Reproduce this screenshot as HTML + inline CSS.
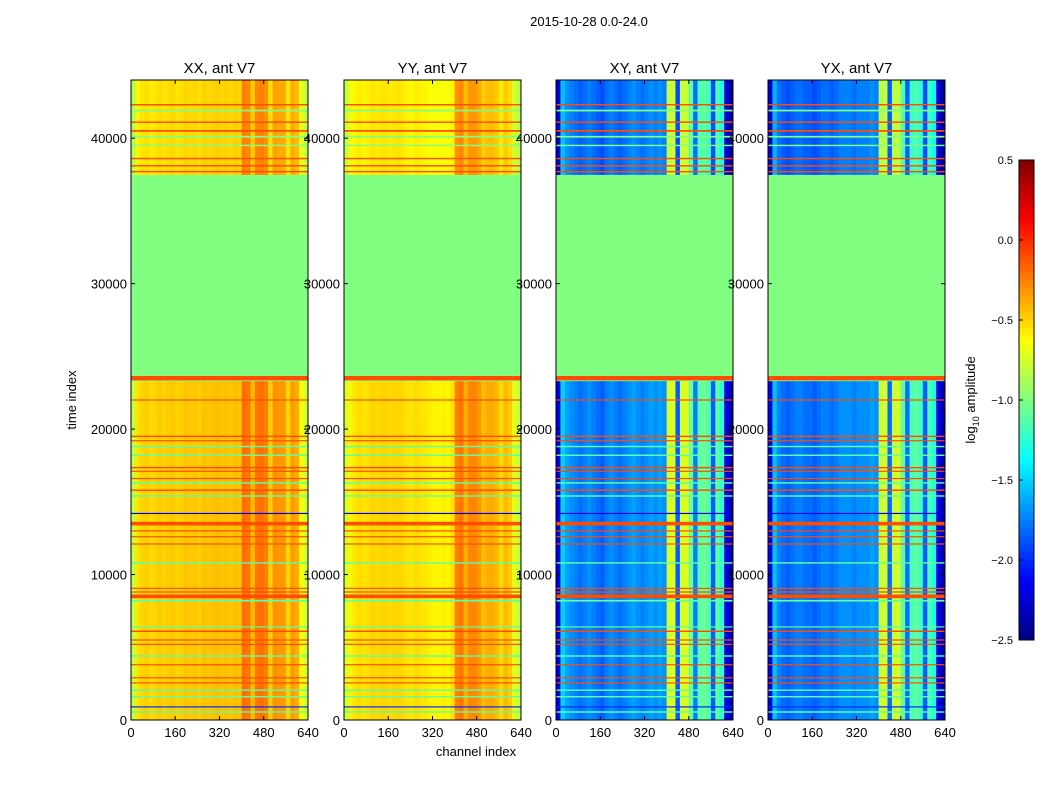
<!DOCTYPE html>
<html><head><meta charset="utf-8">
<style>
body{margin:0;background:#fff;font-family:"Liberation Sans",sans-serif;}
svg text{font-family:"Liberation Sans",sans-serif;}
</style></head>
<body>
<svg id="fig" width="1050" height="800" viewBox="0 0 1050 800" xmlns="http://www.w3.org/2000/svg">
<rect width="1050" height="800" fill="#fff"/>
<text x="589" y="26" font-size="13" text-anchor="middle">2015-10-28 0.0-24.0</text>
<text x="0" y="0" font-size="13" text-anchor="middle" transform="translate(76,400) rotate(-90)">time index</text>
<text x="476" y="756" font-size="13" text-anchor="middle">channel index</text>
<g id="panels"></g>
<g id="cbar"></g>
</svg>
<script>
const panelTitles = ["XX, ant V7","YY, ant V7","XY, ant V7","YX, ant V7"];
const xTickLabels = [0,160,320,480,640];
const yTickLabels = [0,10000,20000,30000,40000];
const cbarTicks = [0.5,0.0,-0.5,-1.0,-1.5,-2.0,-2.5];
const colXX = [-0.8,-0.55,-0.5,-0.48,-0.52,-0.5,-0.47,-0.5,-0.48,-0.46,-0.5,-0.48,-0.45,-0.47,-0.46,-0.48,-0.44,-0.46,-0.45,-0.43,-0.45,-0.44,-0.46,-0.43,-0.45,-0.2,-0.22,-0.42,-0.22,-0.2,-0.25,-0.48,-0.3,-0.32,-0.33,-0.5,-0.33,-0.38,-0.65,-0.75];
const colYY = [-0.75,-0.6,-0.55,-0.52,-0.55,-0.53,-0.5,-0.52,-0.5,-0.5,-0.52,-0.5,-0.5,-0.52,-0.55,-0.55,-0.52,-0.55,-0.55,-0.58,-0.6,-0.6,-0.58,-0.6,-0.55,-0.25,-0.22,-0.38,-0.27,-0.27,-0.32,-0.43,-0.38,-0.38,-0.42,-0.52,-0.42,-0.48,-0.7,-0.8];
const colXY = [-2.2,-1.5,-1.65,-1.7,-1.75,-1.8,-1.75,-1.7,-1.75,-1.8,-1.85,-1.75,-1.7,-1.75,-1.8,-1.75,-1.7,-1.65,-1.7,-1.75,-1.7,-1.65,-1.7,-1.65,-1.7,-0.75,-0.72,-1.85,-0.75,-0.72,-1.05,-1.75,-1.1,-1.05,-1.15,-1.85,-1.1,-1.25,-2.2,-2.35];
const colYX = [-2.2,-1.55,-1.75,-1.8,-1.85,-1.8,-1.75,-1.75,-1.8,-1.8,-1.85,-1.8,-1.75,-1.75,-1.8,-1.75,-1.7,-1.7,-1.7,-1.75,-1.7,-1.7,-1.7,-1.65,-1.7,-0.8,-0.75,-1.8,-0.78,-0.75,-1.1,-1.8,-1.15,-1.1,-1.2,-1.85,-1.15,-1.3,-2.2,-2.35];
const dataRanges = [[0,23300],[37400,44000]];
const rangeOffsetAuto = [0,-0.05];
const gapRange = [23300,37400];
const gapValue = -1.0;
const flagTimes = [42300,41900,41100,40500,40100,39500,38600,38100,37700,37400,23500,22000,19500,19200,18800,18200,17350,17100,16600,16300,15800,15400,14200,13500,13000,12600,12100,10800,9050,8800,8500,8200,6400,6100,5500,5200,4400,3800,2900,2550,2050,1600,900,550];
const flagWidths = [100,120,100,120,120,100,100,100,100,150,300,80,100,80,100,100,100,80,80,100,100,100,80,250,80,80,80,100,80,80,250,120,80,100,80,80,100,80,80,80,100,100,80,100];
const flagValues = [-0.1,-1.0,-0.1,-0.1,-1.0,-1.0,-0.1,-0.1,-0.1,-1.0,-0.1,-0.1,-0.1,-0.1,-1.1,-1.1,-0.1,-0.1,-0.1,-1.1,-0.1,-1.1,-2.2,-0.1,-0.1,-0.1,-0.1,-1.1,-0.1,-0.1,-0.1,-1.1,-1.1,-0.1,-0.1,-0.1,-1.1,-0.1,-0.1,-0.1,-1.1,-1.1,-2.0,-1.1];
const cols = [colXX,colYY,colXY,colYX];
const panelX = [131,344,556,768];
const NS="http://www.w3.org/2000/svg";
const PW=177, Y0=720, PH=640, TMAX=44000, CMAX=640, VMIN=-2.5, VMAX=0.5;
function jet(v){
  let x=(v-VMIN)/(VMAX-VMIN); x=Math.max(0,Math.min(1,x));
  const f=(a)=>Math.max(0,Math.min(1,a));
  const r=f(Math.min(4*x-1.5,-4*x+4.5)), g=f(Math.min(4*x-0.5,-4*x+3.5)), b=f(Math.min(4*x+0.5,-4*x+2.5));
  return `rgb(${Math.round(r*255)},${Math.round(g*255)},${Math.round(b*255)})`;
}
function mk(tag,attrs,parent){const e=document.createElementNS(NS,tag);for(const k in attrs)e.setAttribute(k,attrs[k]);parent.appendChild(e);return e;}
const yS=t=>Y0-t/TMAX*PH;
const panels=document.getElementById('panels');
cols.forEach((col,p)=>{
  const x0=panelX[p], xS=c=>x0+c/CMAX*PW;
  const g=mk('g',{},panels);
  
  
  const bw=CMAX/col.length;
  dataRanges.forEach((r,ri)=>{
    col.forEach((v,i)=>{
      const rc=mk('rect',{x:xS(i*bw),y:yS(r[1]),width:xS((i+1)*bw)-xS(i*bw)+0.3,height:yS(r[0])-yS(r[1]),fill:jet(v+rangeOffsetAuto[ri])},g);
      
      
    });
  });
  const gr=mk('rect',{x:x0,y:yS(gapRange[1]),width:PW,height:yS(gapRange[0])-yS(gapRange[1]),fill:jet(gapValue)},g);
  
  
  flagTimes.forEach((t,i)=>{
    const h=Math.max(1.2,flagWidths[i]/TMAX*PH);
    const fr=mk('rect',{x:x0,y:yS(t)-h/2,width:PW,height:h,fill:jet(flagValues[i])},g);
    
    
  });
  const fr=mk('rect',{x:x0,y:Y0-PH,width:PW,height:PH,fill:'none',stroke:'#000','stroke-width':1},g);
  
  
  const tt=mk('text',{x:x0+PW/2,y:73,'font-size':15,'text-anchor':'middle'},g);
  tt.textContent=panelTitles[p];
  
  
  xTickLabels.forEach(v=>{
    const x=xS(v);
    mk('line',{x1:x,x2:x,y1:Y0,y2:Y0-4,stroke:'#000'},g);
    mk('line',{x1:x,x2:x,y1:Y0-PH,y2:Y0-PH+4,stroke:'#000'},g);
    const t=mk('text',{x:x,y:737,'font-size':13,'text-anchor':'middle'},g);
    t.textContent=v;
    
    
  });
  yTickLabels.forEach(v=>{
    const y=yS(v);
    mk('line',{x1:x0,x2:x0+4,y1:y,y2:y,stroke:'#000'},g);
    mk('line',{x1:x0+PW,x2:x0+PW-4,y1:y,y2:y,stroke:'#000'},g);
    const t=mk('text',{x:x0-4,y:y+5,'font-size':13,'text-anchor':'end'},g);
    t.textContent=v;
    
    
  });
});
// colorbar
const cb=document.getElementById('cbar');


const CX=1019,CW=15,CT=160,CB=640;
const cS=v=>CB-(v-VMIN)/(VMAX-VMIN)*(CB-CT);
for(let i=0;i<120;i++){
  const v0=VMIN+i*(VMAX-VMIN)/120, v1=VMIN+(i+1)*(VMAX-VMIN)/120;
  mk('rect',{x:CX,y:cS(v1),width:CW,height:cS(v0)-cS(v1)+0.3,fill:jet((v0+v1)/2)},cb);
}
mk('rect',{x:CX,y:CT,width:CW,height:CB-CT,fill:'none',stroke:'#000'},cb);
cbarTicks.forEach(v=>{
  const y=cS(v);
  mk('line',{x1:CX,x2:CX+4,y1:y,y2:y,stroke:'#000'},cb);
  const t=mk('text',{x:1013,y:y+4,'font-size':11,'text-anchor':'end'},cb);
  t.textContent=v.toFixed(1).replace('-','\u2212');
  
  
});
const cl=mk('text',{'font-size':13,'text-anchor':'middle',transform:'translate(975,400) rotate(-90)'},cb);
cl.innerHTML='log<tspan font-size="9" dy="4">10</tspan><tspan dy="-4"> amplitude</tspan>';


</script>
</body></html>
